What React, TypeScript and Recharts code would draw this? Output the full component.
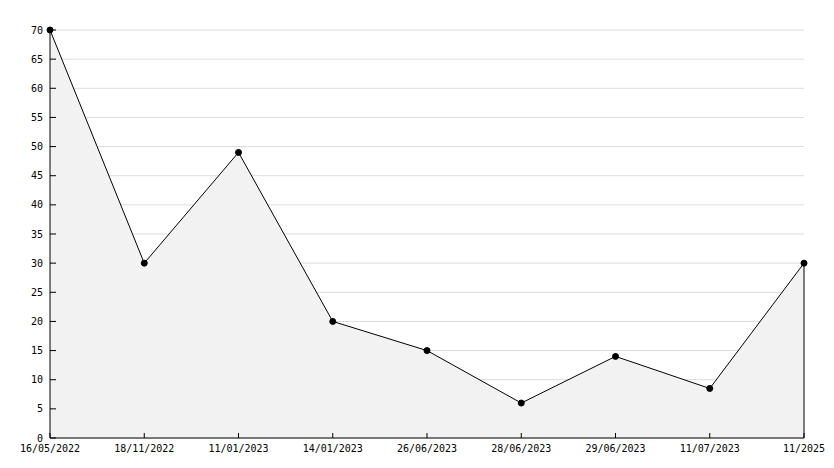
import React from "react";
import {
  Area,
  AreaChart,
  CartesianGrid,
  ReferenceLine,
  XAxis,
  YAxis,
} from "recharts";

// dates of each reading, as printed under the axis
const dates = [
  "16/05/2022",
  "18/11/2022",
  "11/01/2023",
  "14/01/2023",
  "26/06/2023",
  "28/06/2023",
  "29/06/2023",
  "11/07/2023",
  "11/2025",
];

const readings = [70, 30, 49, 20, 15, 6, 14, 8.5, 30];

const majorTicks = [0, 5, 10, 15, 20, 25, 30, 35, 40, 45, 50, 55, 60, 65, 70];
const minorTicks = Array.from({ length: 71 }, (_, i) => i);

const data = dates.map((date, i) => ({ date, value: readings[i] }));

const FONT = "'DejaVu Sans Mono', monospace";
const tickStyle = { fontSize: 10, fontFamily: FONT, fill: "#000" };

export default function App() {
  const last = data[data.length - 1];
  return (
    <div style={{ position: "absolute", left: 0, top: 0, background: "#fff" }}>
      <AreaChart
        width={834}
        height={468}
        data={data}
        margin={{ top: 30, right: 30, left: 0, bottom: 0 }}
      >
        <CartesianGrid horizontal vertical={false} stroke="#dcdcdc" strokeWidth={1} />
        <XAxis
          dataKey="date"
          height={30}
          interval={0}
          tick={tickStyle}
          tickSize={-5}
          tickMargin={12}
          tickLine={{ stroke: "#000" }}
          axisLine={{ stroke: "#000" }}
        />
        <YAxis
          yAxisId="minor"
          mirror
          domain={[0, 70]}
          ticks={minorTicks}
          interval={0}
          tick={false}
          tickSize={3}
          tickLine={{ stroke: "#000" }}
          axisLine={false}
        />
        <YAxis
          domain={[0, 70]}
          ticks={majorTicks}
          interval={0}
          width={50}
          tick={tickStyle}
          tickSize={-6}
          tickMargin={13}
          tickLine={{ stroke: "#000" }}
          axisLine={{ stroke: "#000" }}
        />
        <Area
          type="linear"
          dataKey="value"
          stroke="#000"
          strokeWidth={1}
          fill="#f2f2f2"
          fillOpacity={1}
          dot={{ r: 3, fill: "#000", stroke: "#000", strokeWidth: 1 }}
          activeDot={false}
          isAnimationActive={false}
        />
        <ReferenceLine
          segment={[
            { x: last.date, y: 0 },
            { x: last.date, y: last.value },
          ]}
          stroke="#000"
          strokeWidth={1}
        />
      </AreaChart>
    </div>
  );
}
